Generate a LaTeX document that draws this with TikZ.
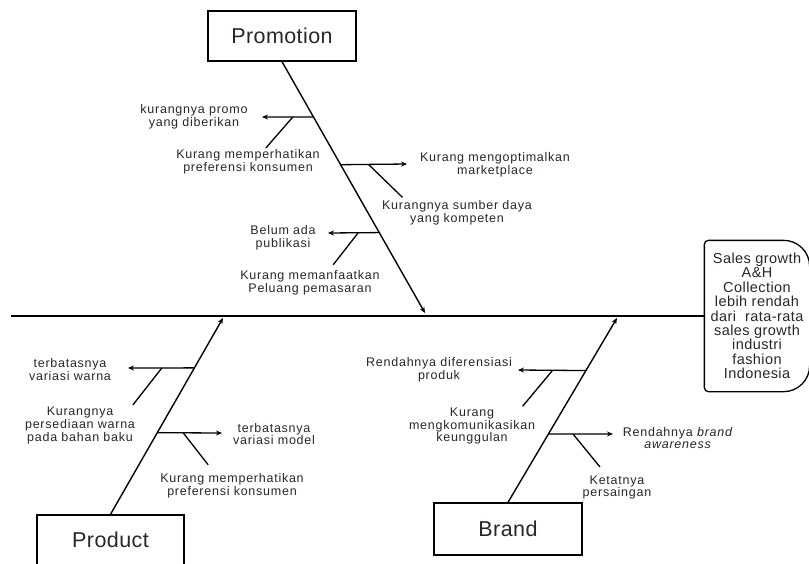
\documentclass[tikz,border=0pt]{standalone}
\usepackage{fontspec}
\setmainfont{Liberation Sans}[LetterSpace=6]
\newfontfamily\catfont{Liberation Sans}[LetterSpace=2]
\newfontfamily\headfont{Liberation Sans}[LetterSpace=3]
\usetikzlibrary{positioning,arrows.meta,calc}
\definecolor{ink}{RGB}{45,36,36}

\begin{document}
\begin{tikzpicture}[x=1pt,y=-1pt,>={Stealth[length=6pt,width=5pt]},line width=1.3pt,
  cat/.style={draw,line width=1.3pt,minimum width=148pt,minimum height=50pt,text=ink,font=\catfont\fontsize{21.5}{24}\selectfont},
  cause/.style={text=ink,align=center,inner sep=0pt,font=\fontsize{12.5}{12.6}\selectfont}]
\useasboundingbox (0,0) rectangle (809,563);

% head of the fish
\node (effect) [minimum width=104pt,minimum height=150pt,inner sep=0pt,align=center,text=ink,
  font=\headfont\fontsize{14.5}{14.4}\selectfont] at (757,316)
  {Sales growth\\A\&H\\Collection\\lebih rendah\\dari~ rata-rata\\sales growth\\industri\\fashion\\Indonesia};
\draw (effect.north) [rounded corners=4pt] -- (effect.north west) -- (effect.south west) -- (effect.south)
  [rounded corners=26pt] -- (effect.south east) -- (effect.north east) -- cycle;

% spine
\coordinate (tail) at (11,316);
\draw (tail) -- (effect.west);

% categories
\node (promo) [cat] at (282,36) {Promotion};
\node (prod) [cat,minimum width=147pt] at (110.5,540) {Product};
\node (brand) [cat,minimum height=52pt] at (508,529) {Brand};

\coordinate (promoTip) at (425,313);
\coordinate (prodTip) at (223,318);
\coordinate (brandTip) at (617,318);
\draw[->,line width=1.4pt] (promo.south) -- (promoTip);
\draw[->,line width=1.4pt] (prod.north) -- (prodTip);
\draw[->,line width=1.4pt] (brand.north) -- (brandTip);

\path (promo.south) -- (promoTip) coordinate[pos=.22] (p1) coordinate[pos=.41] (p2) coordinate[pos=.68] (p3);
\path (prod.north) -- (prodTip) coordinate[pos=.746] (q1) coordinate[pos=.416] (q2);
\path (brand.north) -- (brandTip) coordinate[pos=.715] (r1) coordinate[pos=.371] (r2);

% promotion
\node (pA) [cause] at (194,116.5) {kurangnya promo\\yang diberikan};
\node (pB) [cause] at (248,162) {Kurang memperhatikan\\preferensi konsumen};
\node (pC) [cause] at (495,164.5) {Kurang mengoptimalkan\\marketplace};
\node (pD) [cause] at (457,212.5) {Kurangnya sumber daya\\yang kompeten};
\node (pE) [cause] at (283,237.5) {Belum ada\\publikasi};
\node (pF) [cause] at (310,283) {Kurang memanfaatkan\\Peluang pemasaran};
\draw[->] (p1) -- coordinate[pos=.4] (p1m) (262,117) coordinate (p1e);
\draw (p1m) -- ++(-27,31) coordinate (p1d);
\draw[->] (p2) -- coordinate[pos=.42] (p2m) (407,164) coordinate (p2e);
\draw (p2m) -- ++(34,33) coordinate (p2d);
\draw[->] (p3) -- coordinate[pos=.41] (p3m) (328,233) coordinate (p3e);
\draw (p3m) -- ++(-25,32) coordinate (p3d);

% product
\node (qA) [cause] at (70,369.5) {terbatasnya\\variasi warna};
\node (qB) [cause] at (80,425.5) {Kurangnya\\persediaan warna\\pada bahan baku};
\node (qC) [cause] at (274,434) {terbatasnya\\variasi model};
\node (qD) [cause] at (232,486) {Kurang memperhatikan\\preferensi konsumen};
\draw[->] (q1) -- coordinate[pos=.49] (q1m) (128,368) coordinate (q1e);
\draw (q1m) -- ++(-29,37) coordinate (q1d);
\draw[->] (q2) -- coordinate[pos=.4] (q2m) (222,433) coordinate (q2e);
\draw (q2m) -- ++(25,32) coordinate (q2d);

% brand
\node (rA) [cause] at (439,369.5) {Rendahnya diferensiasi\\produk};
\node (rB) [cause] at (472,426) {Kurang\\mengkomunikasikan\\keunggulan};
\node (rC) [cause] at (678,438) {Rendahnya \textit{brand}\\\textit{awareness}};
\node (rD) [cause] at (617,487.5) {Ketatnya\\persaingan};
\draw[->] (r1) -- coordinate[pos=.49] (r1m) (518,370) coordinate (r1e);
\draw (r1m) -- ++(-30,36) coordinate (r1d);
\draw[->] (r2) -- coordinate[pos=.38] (r2m) (613,434) coordinate (r2e);
\draw (r2m) -- ++(27,33) coordinate (r2d);
\end{tikzpicture}
\end{document}
